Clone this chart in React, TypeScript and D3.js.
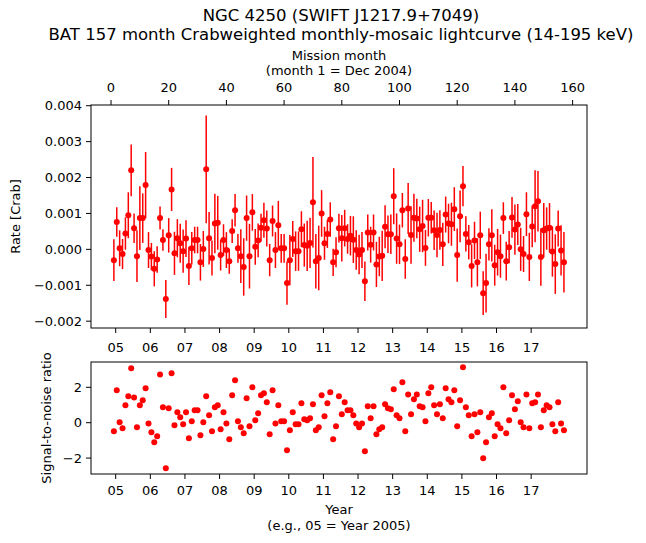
import React from "react";
import * as d3 from "d3";

// Monthly BAT rates (units of 1e-3 Crab), months 1..157 (month 1 = Dec 2004)
const rate: number[] = [
  -0.30, 0.76, 0.03, -0.13, 0.44, 0.95, 2.20, 0.59, -0.19, 0.87,
  0.87, 1.79, -0.02, -0.20, -0.54, -0.28, 0.87, 0.26, -1.38, 0.39,
  1.67, -0.11, 0.31, 0.17, -0.05, 0.30, -0.46, 0.03, 0.26, 0.26,
  -0.36, 0.01, 2.23, 0.31, -0.24, 0.72, 0.74, -0.16, 0.26, -0.02,
  -0.33, 0.51, 1.09, 0.03, -0.19, -0.49, 0.87, -0.19, 1.03, 0.07,
  0.25, 0.60, 0.81, 0.58, -0.30, 0.79, -0.02, 0.67, 0.03, 0.03,
  -0.94, -0.30, 0.29, -0.05, -0.05, 0.56, 0.12, 0.10, 0.18, 1.31,
  -0.33, -0.24, 1.00, 0.17, 0.43, 0.83, -0.36, -0.08, 0.59, 0.31,
  0.59, 0.29, 0.38, 0.27, -0.02, -0.14, -0.02, -0.89, 0.47, 0.13,
  0.47, -0.42, -0.20, -0.18, 0.63, 0.42, 0.42, 1.48, 0.30, 0.14,
  1.09, -0.27, 1.14, 0.40, 0.88, 0.86, 0.56, 0.65, 0.04, 0.88,
  0.88, 0.53, 0.40, 0.54, 0.14, 0.97, 0.72, 0.70, 1.12, -0.16,
  0.92, 1.76, 0.43, 0.20, -0.46, 0.25, -0.36, 0.39, -1.22, -0.94,
  0.14, 0.39, -0.44, -0.08, -0.19, 0.87, -0.33, 0.06, 0.89, 0.55,
  0.69, 0.00, -0.13, 0.98, -0.21, 0.64, 1.20, 1.34, -0.21, 0.53,
  0.58, 0.60, -0.06, -0.41, 0.58, -0.03, -0.36,
];

// 1-sigma errors (units of 1e-3 Crab)
const rateErr: number[] = [
  0.58, 0.41, 0.50, 0.42, 0.45, 0.64, 0.72, 0.41, 0.72, 0.89,
  0.69, 0.92, 0.50, 0.38, 0.49, 0.37, 0.32, 0.30, 0.53, 0.48,
  0.60, 0.60, 0.53, 0.54, 0.60, 0.51, 0.53, 0.45, 0.37, 0.37,
  0.51, 0.50, 1.50, 0.73, 0.49, 0.83, 0.75, 0.43, 0.44, 0.50,
  0.35, 0.33, 0.45, 0.40, 0.75, 0.80, 0.63, 0.90, 0.51, 0.50,
  0.47, 0.39, 0.49, 0.50, 0.45, 0.43, 0.50, 0.68, 0.40, 0.40,
  0.60, 0.70, 0.50, 0.55, 0.55, 0.50, 0.60, 0.70, 0.70, 1.26,
  0.76, 0.90, 0.65, 0.46, 0.39, 0.48, 0.38, 0.42, 0.40, 0.65,
  0.51, 0.41, 0.55, 0.65, 0.55, 0.55, 0.50, 0.55, 0.50, 0.50,
  0.50, 0.63, 0.55, 0.70, 0.60, 0.52, 0.55, 0.78, 0.70, 0.55,
  0.48, 0.55, 0.71, 0.80, 0.67, 0.55, 0.63, 0.73, 0.50, 0.52,
  0.44, 0.55, 0.62, 0.55, 0.60, 0.50, 0.55, 0.60, 0.61, 0.74,
  0.72, 0.56, 0.49, 0.48, 0.60, 0.52, 0.67, 0.66, 0.61, 0.82,
  0.45, 0.73, 0.57, 0.65, 0.60, 0.44, 0.54, 0.45, 0.57, 0.70,
  0.57, 0.60, 0.50, 0.61, 0.67, 0.58, 1.00, 0.84, 0.80, 0.76,
  0.59, 0.69, 0.70, 0.83, 0.50, 0.70, 0.84,
];

// Signal-to-noise ratio per month
const snr: number[] = [
  -0.49, 1.83, 0.02, -0.32, 0.98, 1.49, 3.07, 1.43, -0.26, 0.98,
  1.27, 1.94, -0.04, -0.54, -1.11, -0.77, 2.73, 0.87, -2.58, 0.81,
  2.79, -0.15, 0.59, 0.31, -0.09, 0.59, -0.88, 0.08, 0.70, 0.70,
  -0.71, 0.02, 1.49, 0.42, -0.49, 0.87, 0.98, -0.37, 0.59, -0.04,
  -0.94, 1.55, 2.40, 0.08, -0.26, -0.60, 1.38, -0.20, 2.00, 0.14,
  0.53, 1.55, 1.66, 1.15, -0.66, 1.83, -0.04, 0.98, 0.08, 0.08,
  -1.56, -0.43, 0.59, -0.09, -0.09, 1.10, 0.19, 0.14, 0.25, 1.04,
  -0.43, -0.26, 1.55, 0.36, 1.10, 1.72, -0.94, -0.20, 1.49, 0.48,
  1.15, 0.70, 0.70, 0.42, -0.04, -0.26, -0.04, -1.62, 0.93, 0.25,
  0.93, -0.66, -0.37, -0.26, 1.04, 0.81, 0.76, 1.89, 0.42, 0.25,
  2.28, -0.49, 1.60, 0.48, 1.32, 1.60, 0.93, 0.87, 0.08, 1.66,
  2.00, 0.98, 0.48, 1.04, 0.25, 1.94, 1.32, 1.15, 1.83, -0.20,
  1.27, 3.13, 0.87, 0.42, -0.77, 0.48, -0.54, 0.59, -2.01, -1.11,
  0.31, 0.53, -0.77, -0.09, -0.32, 2.00, -0.60, 0.14, 1.55, 0.76,
  1.21, 0.02, -0.26, 1.60, -0.32, 1.10, 1.15, 1.60, -0.26, 0.70,
  0.98, 0.87, -0.09, -0.49, 1.15, -0.04, -0.43,
];

const monthTicks: number[] = [0, 20, 40, 60, 80, 100, 120, 140, 160];
const yearTicks: number[] = [2005, 2006, 2007, 2008, 2009, 2010, 2011, 2012, 2013, 2014, 2015, 2016, 2017];
const rateTicks: number[] = [-0.002, -0.001, 0, 0.001, 0.002, 0.003, 0.004];
const snrTicks: number[] = [-2, 0, 2];

const W = 646;
const H = 543;
const L = 91;
const R = 587;
const T1 = 105;
const B1 = 328;
const T2 = 362;
const B2 = 474;
const RED = "#ff0000";
const FONT = "DejaVu Sans, sans-serif";

const fmtMinus = (s: string) => s.replace("-", "\u2212");

export default function App() {
  const xM = d3.scaleLinear().domain([-20 / 2.885, 476 / 2.885]).range([L, R]);
  // year -> month position: 2005.0 at month 1.63
  const yearToMonth = (y: number) => 1.63 + 12 * (y - 2005);
  const y1 = d3.scaleLinear().domain([-0.00219, 0.00402]).range([B1, T1]);
  const y2 = d3.scaleLinear().domain([-2.9, 3.43]).range([B2, T2]);
  const cx = (L + R) / 2;
  const tk = 5;

  const yearAxis = (yb: number, labelY: number) => (
    <g>
      {yearTicks.map((yr) => {
        const x = xM(yearToMonth(yr));
        return (
          <g key={yr}>
            <line x1={x} x2={x} y1={yb} y2={yb + tk} stroke="black" strokeWidth={1} />
            <text x={x} y={labelY} textAnchor="middle" fontSize={13} fontFamily={FONT}>
              {String(yr % 100).padStart(2, "0")}
            </text>
          </g>
        );
      })}
    </g>
  );

  return (
    <svg
      width={W}
      height={H}
      style={{ position: "absolute", left: 0, top: 0, background: "white" }}
    >
      <rect x={0} y={0} width={W} height={H} fill="white" />
      {/* titles */}
      <text x={cx + 2} y={21} textAnchor="middle" fontSize={16.5} fontFamily={FONT}>
        NGC 4250 (SWIFT J1217.9+7049)
      </text>
      <text x={cx + 2} y={40} textAnchor="middle" fontSize={16.5} fontFamily={FONT}>
        BAT 157 month Crabweighted monthly-mosaic lightcurve (14-195 keV)
      </text>
      <text x={cx} y={60} textAnchor="middle" fontSize={13} fontFamily={FONT}>
        Mission month
      </text>
      <text x={cx} y={75} textAnchor="middle" fontSize={13} fontFamily={FONT}>
        (month 1 = Dec 2004)
      </text>

      {/* top panel month axis */}
      {monthTicks.map((m) => (
        <g key={m}>
          <line x1={xM(m)} x2={xM(m)} y1={T1} y2={T1 - tk} stroke="black" strokeWidth={1} />
          <text x={xM(m)} y={92} textAnchor="middle" fontSize={13} fontFamily={FONT}>
            {m}
          </text>
        </g>
      ))}

      {/* top panel left axis */}
      {rateTicks.map((v) => (
        <g key={v}>
          <line x1={L - tk} x2={L} y1={y1(v)} y2={y1(v)} stroke="black" strokeWidth={1} />
          <text
            x={L - tk - 4}
            y={y1(v)}
            dy="0.35em"
            textAnchor="end"
            fontSize={13}
            fontFamily={FONT}
          >
            {fmtMinus(d3.format(".3f")(v))}
          </text>
        </g>
      ))}
      <text
        transform={`translate(20,${(T1 + B1) / 2}) rotate(-90)`}
        textAnchor="middle"
        fontSize={13}
        fontFamily={FONT}
      >
        Rate [Crab]
      </text>

      {/* top panel data */}
      <g>
        {rate.map((r, i) => {
          const x = xM(i + 1);
          const v = r * 1e-3;
          const e = rateErr[i] * 1e-3;
          return (
            <g key={i}>
              <line x1={x} x2={x} y1={y1(v - e)} y2={y1(v + e)} stroke={RED} strokeWidth={1.5} />
              <circle cx={x} cy={y1(v)} r={3} fill={RED} />
            </g>
          );
        })}
      </g>
      <rect x={L} y={T1} width={R - L} height={B1 - T1} fill="none" stroke="black" strokeWidth={1} />
      {yearAxis(B1, 352)}

      {/* bottom panel */}
      {snrTicks.map((v) => (
        <g key={v}>
          <line x1={L - tk} x2={L} y1={y2(v)} y2={y2(v)} stroke="black" strokeWidth={1} />
          <text
            x={L - tk - 4}
            y={y2(v)}
            dy="0.35em"
            textAnchor="end"
            fontSize={13}
            fontFamily={FONT}
          >
            {fmtMinus(String(v))}
          </text>
        </g>
      ))}
      <text
        transform={`translate(51,${(T2 + B2) / 2}) rotate(-90)`}
        textAnchor="middle"
        fontSize={13}
        fontFamily={FONT}
      >
        Signal-to-noise ratio
      </text>
      <g>
        {snr.map((s, i) => (
          <circle key={i} cx={xM(i + 1)} cy={y2(s)} r={3} fill={RED} />
        ))}
      </g>
      <rect x={L} y={T2} width={R - L} height={B2 - T2} fill="none" stroke="black" strokeWidth={1} />
      {yearAxis(B2, 495)}
      <text x={cx} y={514} textAnchor="middle" fontSize={13} fontFamily={FONT}>
        Year
      </text>
      <text x={cx} y={530} textAnchor="middle" fontSize={13} fontFamily={FONT}>
        (e.g., 05 = Year 2005)
      </text>
    </svg>
  );
}
